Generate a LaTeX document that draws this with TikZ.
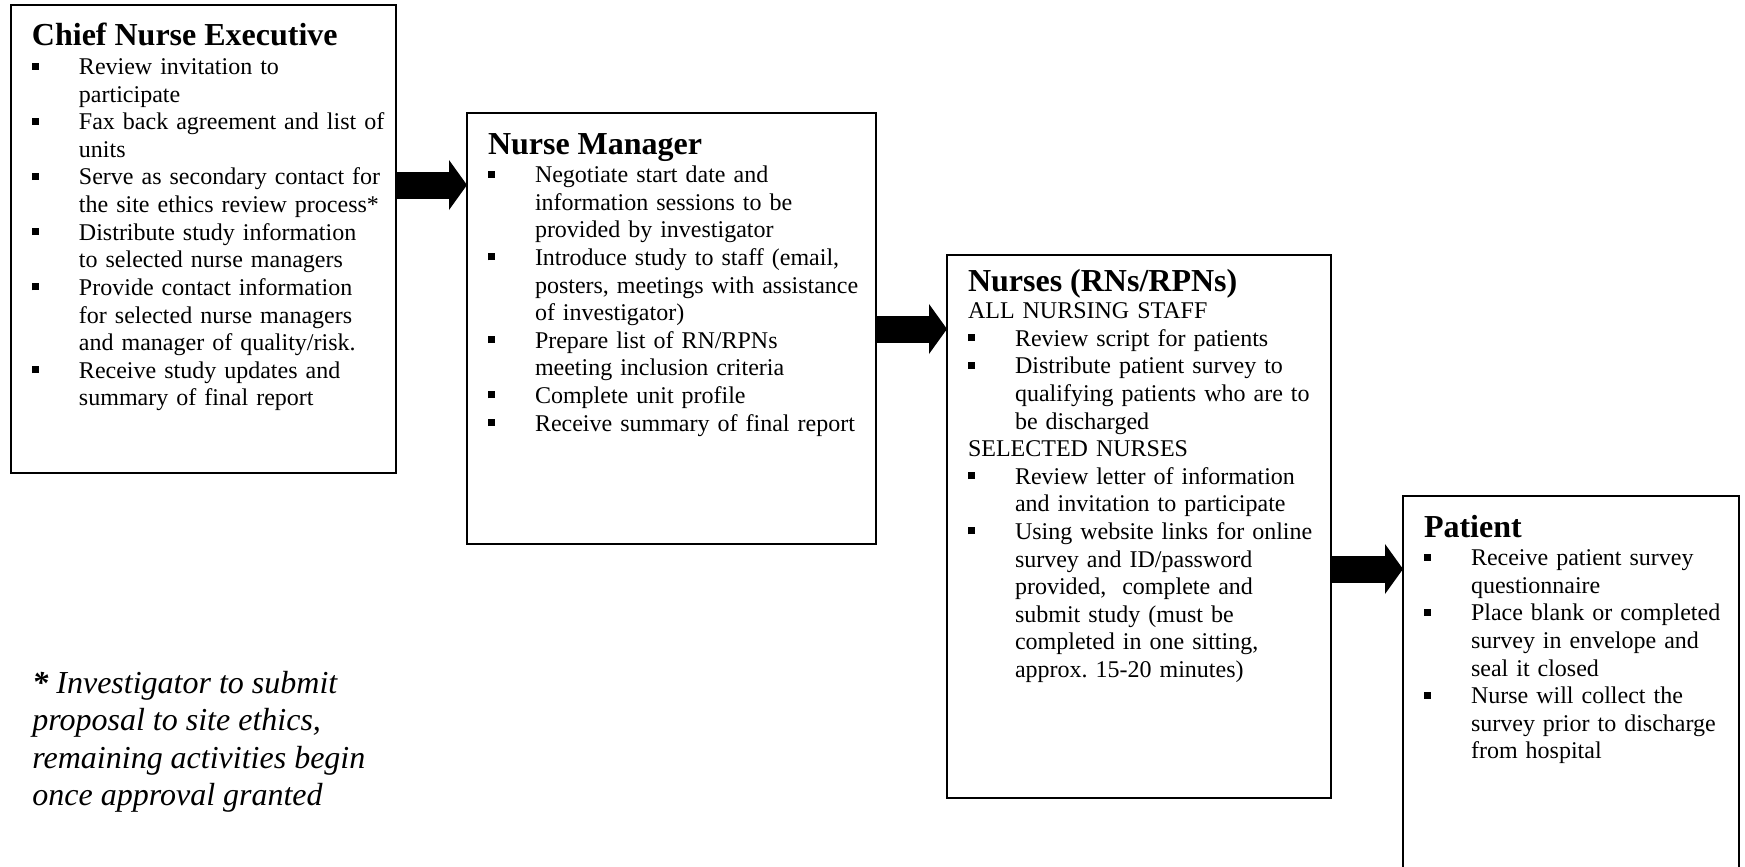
\documentclass[tikz,border=0pt]{standalone}
\usepackage{fontspec}
\setmainfont{Liberation Serif}
\usepackage{xcolor}
\usepackage{tikz}
\usetikzlibrary{arrows.meta, positioning, calc}
\frenchspacing
\newcommand{\sqbullet}{\rule[2.5pt]{3.5pt}{3.5pt}}
\newcommand{\headfont}{\fontsize{16}{18.4}\selectfont\bfseries}

\begin{document}
\begin{tikzpicture}[
    x=0.5pt, y=-0.5pt,
    stagebox/.style={draw, line width=1pt, outer sep=0pt,
        inner xsep=10.5pt, inner ysep=0pt,
        anchor=north west, align=left, text height=20pt,
        font=\fontsize{12}{13.8}\selectfont},
    bigarrow/.style={line width=13.5pt,
        -{Triangle[length=9pt, width=25pt, line width=0pt]}}
]
\useasboundingbox (0,0) rectangle (1745,867);
\clip (0,0) rectangle (1745,867);

% Chief Nurse Executive
\node[stagebox, text width=171.5pt, text depth=214pt] (cne) at (11,5) {%
    \begin{tabular}[t]{@{}l@{\hspace{20pt}}l@{}}
        \multicolumn{2}{@{}l@{}}{\headfont Chief Nurse Executive}\\[1pt]
        \sqbullet & Review invitation to\\
                  & participate\\
        \sqbullet & Fax back agreement and list of\\
                  & units\\
        \sqbullet & Serve as secondary contact for\\
                  & the site ethics review process*\\
        \sqbullet & Distribute study information\\
                  & to selected nurse managers\\
        \sqbullet & Provide contact information\\
                  & for selected nurse managers\\
                  & and manager of quality/risk.\\
        \sqbullet & Receive study updates and\\
                  & summary of final report
    \end{tabular}};

% Nurse Manager
\node[stagebox, text width=183.5pt, text height=20.5pt, text depth=195pt] (nm) at (467,113) {%
    \begin{tabular}[t]{@{}l@{\hspace{20pt}}l@{}}
        \multicolumn{2}{@{}l@{}}{\headfont Nurse Manager}\\[0.5pt]
        \sqbullet & Negotiate start date and\\
                  & information sessions to be\\
                  & provided by investigator\\
        \sqbullet & Introduce study to staff (email,\\
                  & posters, meetings with assistance\\
                  & of investigator)\\
        \sqbullet & Prepare list of RN/RPNs\\
                  & meeting inclusion criteria\\
        \sqbullet & Complete unit profile\\
        \sqbullet & Receive summary of final report
    \end{tabular}};

% Nurses
\node[stagebox, text width=171pt, text height=18pt, text depth=253.5pt] (nrs) at (947,255) {%
    \begin{tabular}[t]{@{}l@{\hspace{20pt}}l@{}}
        \multicolumn{2}{@{}l@{}}{\headfont Nurses (RNs/RPNs)}\\
        \multicolumn{2}{@{}l@{}}{ALL NURSING STAFF}\\
        \sqbullet & Review script for patients\\
        \sqbullet & Distribute patient survey to\\
                  & qualifying patients who are to\\
                  & be discharged\\
        \multicolumn{2}{@{}l@{}}{SELECTED NURSES}\\
        \sqbullet & Review letter of information\\
                  & and invitation to participate\\
        \sqbullet & Using website links for online\\
                  & survey and ID/password\\
                  & provided,\ \ complete and\\
                  & submit study (must be\\
                  & completed in one sitting,\\
                  & approx. 15-20 minutes)
    \end{tabular}};

% Patient
\node[stagebox, text width=147pt, text height=20.5pt, text depth=181.5pt] (pat) at (1403,496) {%
    \begin{tabular}[t]{@{}l@{\hspace{20pt}}l@{}}
        \multicolumn{2}{@{}l@{}}{\headfont Patient}\\[0.5pt]
        \sqbullet & Receive patient survey\\
                  & questionnaire\\
        \sqbullet & Place blank or completed\\
                  & survey in envelope and\\
                  & seal it closed\\
        \sqbullet & Nurse will collect the\\
                  & survey prior to discharge\\
                  & from hospital
    \end{tabular}};

% footnote
\node[anchor=north west, inner sep=0pt, align=left,
      font=\fontsize{16}{18.65}\selectfont\itshape] (note) at (32,671)
    {\textbf{*} Investigator to submit\\
     proposal to site ethics,\\
     remaining activities begin\\
     once approval granted};

% arrows
\coordinate (a1) at ([yshift=-90pt]cne.north east);
\draw[bigarrow] (a1) -- (a1 -| nm.west);
\coordinate (a2) at ([yshift=-108pt]nm.north east);
\draw[bigarrow] (a2) -- (a2 -| nrs.west);
\coordinate (a3) at ([yshift=-157pt]nrs.north east);
\draw[bigarrow] (a3) -- (a3 -| pat.west);
\end{tikzpicture}
\end{document}
